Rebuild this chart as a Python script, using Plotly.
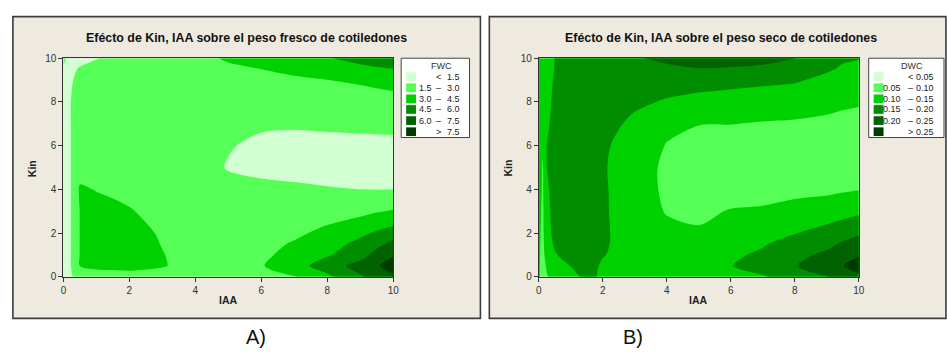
import plotly.graph_objects as go

# ---------------- data ----------------
iaa = [0, 0.125, 0.25, 0.5, 1, 1.5, 2, 3, 4, 5, 6, 7, 8, 9, 9.5, 10]
kin = [0, 0.5, 1, 1.5, 2, 3, 4, 5, 6, 7, 8, 9, 9.5, 10]

fwc = [
    [1.0, 1.1, 1.4, 2.3, 2.4, 2.45, 2.5, 2.4, 2.4, 2.3, 2.2, 2.9, 4.2, 5.8, 6.8, 7.2],
    [1.0, 1.1, 1.6, 3.02, 3.3, 3.35, 3.4, 3.1, 2.45, 2.5, 2.9, 3.9, 5.2, 6.6, 7.3, 8.3],
    [1.0, 1.1, 1.6, 3.05, 3.6, 3.6, 3.6, 3.05, 2.45, 2.45, 2.7, 3.5, 4.35, 5.4, 6.5, 7.3],
    [1.0, 1.1, 1.6, 3.05, 3.6, 3.6, 3.6, 2.95, 2.4, 2.4, 2.5, 3.15, 3.9, 4.9, 5.6, 6.4],
    [1.0, 1.1, 1.6, 3.05, 3.6, 3.6, 3.5, 2.85, 2.4, 2.3, 2.3, 2.7, 3.4, 4.2, 4.7, 5.2],
    [1.0, 1.1, 1.6, 3.05, 3.6, 3.35, 3.1, 2.5, 2.3, 2.2, 2.2, 2.2, 2.3, 2.6, 2.9, 3.1],
    [1.0, 1.1, 1.6, 3.2, 2.93, 2.75, 2.6, 2.3, 2.2, 2.0, 2.0, 1.8, 1.6, 1.5, 1.48, 1.5],
    [1.0, 1.1, 1.6, 2.3, 2.5, 2.4, 2.3, 2.3, 2.2, 1.4, 1.0, 0.9, 0.9, 1.0, 1.0, 1.0],
    [1.0, 1.1, 1.6, 2.1, 2.3, 2.3, 2.3, 2.3, 2.3, 1.6, 1.2, 1.0, 1.0, 1.0, 1.0, 1.0],
    [1.0, 1.1, 1.6, 2.1, 2.3, 2.3, 2.3, 2.3, 2.3, 2.0, 1.7, 1.7, 1.8, 1.9, 1.95, 2.0],
    [1.0, 1.1, 1.6, 2.1, 2.2, 2.25, 2.3, 2.3, 2.3, 2.2, 2.2, 2.2, 2.3, 2.3, 2.4, 2.5],
    [1.0, 1.1, 1.4, 1.9, 2.1, 2.2, 2.3, 2.3, 2.35, 2.45, 2.7, 2.8, 2.98, 3.2, 3.35, 3.5],
    [1.0, 1.05, 1.3, 1.6, 1.9, 2.05, 2.2, 2.3, 2.4, 2.7, 3.0, 3.3, 3.7, 4.1, 4.3, 4.45],
    [2.5, 1.0, 1.0, 1.15, 1.45, 1.75, 2.0, 2.2, 2.5, 3.2, 3.8, 4.1, 4.4, 5.0, 5.3, 5.5],
]

dwc = [
    [0.105, 0.085, 0.097, 0.12, 0.14, 0.158, 0.145, 0.13, 0.12, 0.12, 0.125, 0.145, 0.175, 0.198, 0.215, 0.235],
    [0.105, 0.085, 0.105, 0.13, 0.151, 0.165, 0.145, 0.13, 0.125, 0.125, 0.148, 0.175, 0.197, 0.235, 0.248, 0.28],
    [0.106, 0.087, 0.12, 0.147, 0.165, 0.17, 0.152, 0.132, 0.125, 0.12, 0.14, 0.16, 0.19, 0.208, 0.23, 0.245],
    [0.107, 0.088, 0.135, 0.155, 0.17, 0.172, 0.155, 0.132, 0.118, 0.112, 0.13, 0.145, 0.175, 0.19, 0.205, 0.22],
    [0.108, 0.09, 0.14, 0.158, 0.17, 0.172, 0.156, 0.13, 0.112, 0.104, 0.12, 0.13, 0.148, 0.17, 0.185, 0.195],
    [0.11, 0.093, 0.143, 0.16, 0.17, 0.172, 0.156, 0.125, 0.097, 0.093, 0.102, 0.105, 0.115, 0.12, 0.13, 0.14],
    [0.112, 0.096, 0.146, 0.16, 0.17, 0.172, 0.156, 0.122, 0.092, 0.08, 0.085, 0.085, 0.088, 0.092, 0.095, 0.098],
    [0.115, 0.097, 0.15, 0.162, 0.17, 0.172, 0.155, 0.12, 0.092, 0.075, 0.075, 0.075, 0.08, 0.08, 0.08, 0.08],
    [0.118, 0.104, 0.15, 0.162, 0.17, 0.172, 0.158, 0.125, 0.098, 0.075, 0.075, 0.075, 0.08, 0.08, 0.08, 0.08],
    [0.12, 0.115, 0.145, 0.16, 0.17, 0.172, 0.17, 0.138, 0.11, 0.102, 0.101, 0.097, 0.095, 0.093, 0.092, 0.09],
    [0.12, 0.12, 0.14, 0.158, 0.17, 0.172, 0.17, 0.16, 0.145, 0.135, 0.13, 0.125, 0.12, 0.11, 0.105, 0.103],
    [0.12, 0.122, 0.135, 0.155, 0.17, 0.173, 0.18, 0.18, 0.175, 0.17, 0.165, 0.16, 0.155, 0.14, 0.135, 0.13],
    [0.12, 0.123, 0.132, 0.152, 0.17, 0.174, 0.18, 0.19, 0.195, 0.198, 0.195, 0.19, 0.18, 0.155, 0.145, 0.14],
    [0.12, 0.125, 0.13, 0.151, 0.17, 0.175, 0.18, 0.198, 0.205, 0.22, 0.22, 0.215, 0.202, 0.165, 0.155, 0.152],
]

fwc_levels = [1.5, 3.0, 4.5, 6.0, 7.5]
dwc_levels = [0.05, 0.10, 0.15, 0.20, 0.25]
band_colors = ["#D2FFD2", "#55FF55", "#00D200", "#008E00", "#006200", "#003C00"]
tick_vals = [0, 2, 4, 6, 8, 10]
title_a = "Ef\u00e9cto de Kin, IAA sobre el peso fresco de cotiledones"
title_b = "Ef\u00e9cto de Kin, IAA sobre el peso seco de cotiledones"
x_title = "IAA"
y_title = "Kin"
legend_a = "FWC"
legend_b = "DWC"
panel_labels = ["A)", "B)"]

# ---------------- layout helpers ----------------
W, H = 947, 364
def fx(p):
    return p / W
def fy(p):
    return 1 - p / H

BG = "#EEEAE0"
EDGE = "#3C3C3C"
TXT = "#222222"

n = len(band_colors)
cscale = []
for i, c in enumerate(band_colors):
    cscale.append([i / n, c])
    cscale.append([(i + 1) / n, c])

def contour(z, levels, xa, ya):
    step = levels[1] - levels[0]
    return go.Contour(
        x=iaa, y=kin, z=z, xaxis=xa, yaxis=ya,
        autocontour=False,
        contours=dict(start=levels[0], end=levels[-1], size=step,
                      coloring="fill", showlines=False),
        colorscale=cscale, showscale=False,
        line=dict(width=0, smoothing=0.9),
        hoverinfo="skip",
    )

fig = go.Figure()
fig.add_trace(contour(fwc, fwc_levels, "x", "y"))
fig.add_trace(contour(dwc, dwc_levels, "x2", "y2"))

shapes = []
annotations = []

# panel backgrounds
for (l, r) in [(10, 482), (491, 952)]:
    shapes.append(dict(type="rect", xref="paper", yref="paper", layer="below",
                       x0=fx(l), x1=fx(r), y0=fy(323), y1=fy(11),
                       fillcolor=BG, line=dict(color=EDGE, width=1.6)))

axis_common = dict(range=[0, 10], tickvals=tick_vals, ticks="outside", ticklen=4,
                   tickcolor="#333", showline=True, linecolor="#333", linewidth=1,
                   mirror=True, showgrid=False, zeroline=False,
                   tickfont=dict(family="Liberation Sans, Arial, sans-serif", size=10, color="#333"))

layout_axes = dict(
    xaxis=dict(domain=[fx(61), fx(394)], anchor="y", **axis_common),
    yaxis=dict(domain=[fy(280), fy(54)], anchor="x", **axis_common),
    xaxis2=dict(domain=[fx(541), fx(864)], anchor="y2", **axis_common),
    yaxis2=dict(domain=[fy(280), fy(54)], anchor="x2", **axis_common),
)

TF = "Liberation Sans, Arial, sans-serif"

def ann(text, x, y, size=10, bold=False, xanchor="center", angle=0, color=TXT, family=TF):
    annotations.append(dict(text=("<b>%s</b>" % text) if bold else text,
                            xref="paper", yref="paper", x=fx(x), y=fy(y),
                            xanchor=xanchor, yanchor="middle", showarrow=False,
                            textangle=angle, font=dict(family=family, size=size, color=color)))

# titles
ann(title_a, 246, 33, size=12.4, bold=True, color="#111")
ann(title_b, 725, 33, size=12.4, bold=True, color="#111")
# axis titles
ann(x_title, 227.5, 304, size=10.5, bold=True)
ann(x_title, 702.5, 304, size=10.5, bold=True)
ann(y_title, 30, 168, size=10.5, bold=True, angle=-90)
ann(y_title, 510, 168, size=10.5, bold=True, angle=-90)

# legends
row_y = [73, 84.5, 96, 107, 118.5, 130]

def legend(box_l, box_r, title, title_x, levels, fmt, low_r, dash_x, high_r):
    shapes.append(dict(type="rect", xref="paper", yref="paper", layer="above",
                       x0=fx(box_l), x1=fx(box_r), y0=fy(136), y1=fy(54),
                       fillcolor="white", line=dict(color="#444", width=1)))
    ann(title, title_x, 62, size=9, color="#333")
    sw_l = box_l + 5
    for i, c in enumerate(band_colors):
        yc = row_y[i]
        shapes.append(dict(type="rect", xref="paper", yref="paper", layer="above",
                           x0=fx(sw_l), x1=fx(sw_l + 10), y0=fy(yc + 4.5), y1=fy(yc - 4.5),
                           fillcolor=c, line=dict(width=0)))
        if i == 0:
            ann("&lt;", dash_x, yc, size=9)
            ann(fmt % levels[0], high_r, yc, size=9, xanchor="right")
        elif i == n - 1:
            ann("&gt;", dash_x, yc, size=9)
            ann(fmt % levels[-1], high_r, yc, size=9, xanchor="right")
        else:
            ann(fmt % levels[i - 1], low_r, yc, size=9, xanchor="right")
            ann("\u2013", dash_x, yc, size=9)
            ann(fmt % levels[i], high_r, yc, size=9, xanchor="right")

legend(402, 471, legend_a, 443, fwc_levels, "%.1f", 435, 440, 463)
legend(874, 950, legend_b, 918, dwc_levels, "%.2f", 909, 916, 942)

# panel labels
ann(panel_labels[0], 255, 342, size=20, color="#111",
    family="Liberation Sans Narrow, Liberation Sans, Arial, sans-serif")
ann(panel_labels[1], 636, 342, size=20, color="#111",
    family="Liberation Sans Narrow, Liberation Sans, Arial, sans-serif")

fig.update_layout(
    width=W, height=H, margin=dict(l=0, r=0, t=0, b=0),
    paper_bgcolor="white", plot_bgcolor="rgba(0,0,0,0)",
    showlegend=False, shapes=shapes, annotations=annotations,
    **layout_axes,
)

fig.write_html("out.html")
